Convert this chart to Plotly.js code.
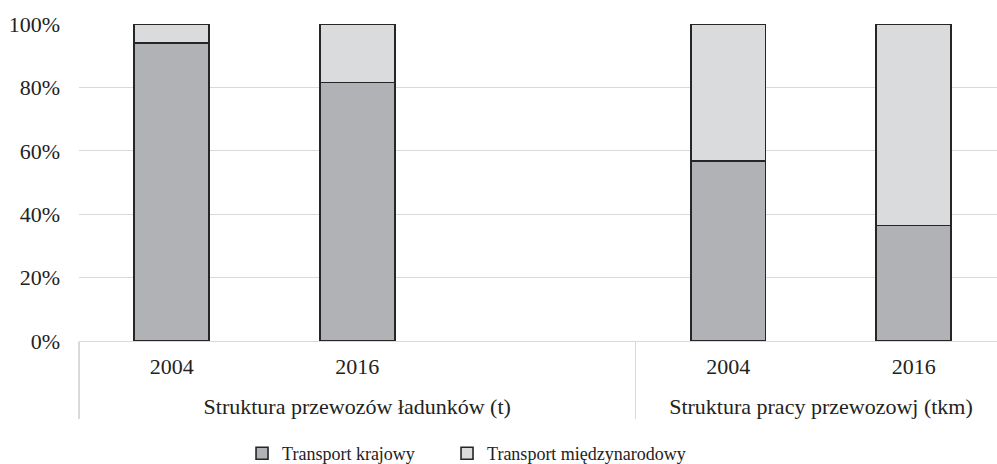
<!DOCTYPE html>
<html>
<head>
<meta charset="utf-8">
<script src="https://cdn.plot.ly/plotly-3.0.1.min.js"></script>
<style>
  html, body { margin: 0; padding: 0; background: #fff; overflow: hidden; }
  #chart { width: 997px; height: 472px; }
</style>
</head>
<body>
<div id="chart"></div>
<script>
// ---- data ----
var groups = [
  "Struktura przewozów ładunków (t)",
  "Struktura przewozów ładunków (t)",
  "Struktura przewozów ładunków (t)",
  "Struktura pracy przewozowj (tkm)",
  "Struktura pracy przewozowj (tkm)"
];
// third slot of the first group is an empty category (gap in the original chart)
var years = ["2004", "2016", "<span style='font-size:39px;color:rgba(0,0,0,0)'>.</span>", "2004", "2016"];
var krajowy = [0.94, 0.815, null, 0.568, 0.365];
var miedzynarodowy = [0.06, 0.185, null, 0.432, 0.635];
var seriesNames = ["Transport krajowy", "Transport międzynarodowy"];
var yTickVals = [0, 0.2, 0.4, 0.6, 0.8, 1.0];
var yTickText = ["0%", "20%", "40%", "60%", "80%", "100%"];

var fontFam = "Liberation Serif, Times New Roman, serif";
var txtColor = "#222222";

var traces = [
  {
    type: "bar",
    name: seriesNames[0],
    x: [groups, years],
    y: krajowy,
    legend: "legend",
    marker: { color: "#b1b2b6", line: { color: "#262626", width: 1.6 } },
    hoverinfo: "skip"
  },
  {
    type: "bar",
    name: seriesNames[1],
    x: [groups, years],
    y: miedzynarodowy,
    legend: "legend2",
    marker: { color: "#dadbdd", line: { color: "#262626", width: 1.6 } },
    hoverinfo: "skip"
  }
];

var legendCommon = {
  orientation: "h",
  xanchor: "left",
  yref: "container",
  y: 0,
  yanchor: "bottom",
  font: { family: fontFam, size: 18, color: txtColor },
  bgcolor: "rgba(0,0,0,0)"
};

var layout = {
  width: 997,
  height: 472,
  margin: { l: 79, r: 0, t: 23.5, b: 130.5 },
  paper_bgcolor: "#ffffff",
  plot_bgcolor: "#ffffff",
  barmode: "stack",
  bargap: 0.596,
  font: { family: fontFam, color: txtColor, size: 22 },
  xaxis: {
    type: "multicategory",
    range: [-0.5, 4.449],
    automargin: false,
    showline: true,
    linecolor: "#d9d9d9",
    linewidth: 1.3,
    showgrid: false,
    ticks: "",
    ticklabelstandoff: 5,
    showdividers: true,
    dividercolor: "#d9d9d9",
    dividerwidth: 1.3,
    tickfont: { family: fontFam, size: 22, color: txtColor }
  },
  yaxis: {
    range: [0, 1],
    automargin: false,
    tickvals: yTickVals,
    ticktext: yTickText,
    showgrid: true,
    gridcolor: "#d9d9d9",
    gridwidth: 1.3,
    zeroline: false,
    showline: false,
    ticks: "",
    ticklabelstandoff: 18,
    tickfont: { family: fontFam, size: 22, color: txtColor }
  },
  showlegend: true,
  legend: Object.assign({}, legendCommon, { x: 0.1776 }),
  legend2: Object.assign({}, legendCommon, { x: 0.4009 })
};

Plotly.newPlot("chart", traces, layout, { displayModeBar: false, staticPlot: true });
</script>
</body>
</html>
